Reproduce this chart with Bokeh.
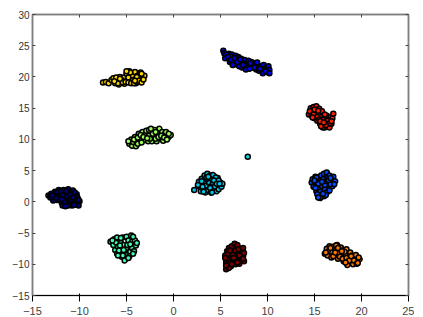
from bokeh.plotting import figure
from bokeh.models import LinearAxis, FixedTicker
from bokeh.embed import file_html
from bokeh.resources import INLINE

navy_x = [-13.3,-13.0,-12.9,-12.6,-12.5,-12.4,-12.2,-12.1,-12.0,-11.9,-11.8,-11.7,-11.6,-11.5,-11.4,-11.2,-11.1,-11.0,-10.9,-10.8,-10.7,-10.6,-10.5,-10.4,-10.3,-10.2,-10.1,-10.0,-12.8,-13.1,-11.3,-10.9,-12.7,-12.3,-12.2,-12.0,-11.8,-11.6,-11.4,-11.2,-11.0,-10.7,-10.5,-10.3,-10.6,-11.9,-12.5,-12.9,-10.1,-11.5]
navy_y = [1.0,1.3,0.6,1.6,1.0,0.3,1.9,1.3,0.7,-0.1,-0.6,1.9,1.2,0.4,-0.4,2.0,1.4,0.8,0.0,-0.6,1.8,1.1,0.4,-0.2,1.2,0.6,-0.6,0.1,0.2,0.7,0.9,0.4,1.3,1.6,0.4,1.6,1.0,0.0,1.7,-0.6,1.1,0.7,1.5,0.3,-0.5,0.4,0.6,1.0,0.3,-0.7]
blue_x = [5.3,5.4,5.6,5.5,5.9,5.9,6.2,6.3,6.2,6.6,6.6,6.7,6.9,7.0,7.0,7.2,7.3,7.3,7.6,7.6,7.8,8.0,8.0,8.3,8.4,8.5,8.7,8.8,9.0,9.1,9.3,9.4,9.6,9.7,9.9,10.0,10.1,10.2,6.0,6.9,7.5,9.5,5.6,5.8,6.1,6.4,6.5,6.8,7.1,7.4,7.9,8.2,8.6,8.9,9.2,9.8,10.2,7.7,6.3,8.1]
blue_y = [24.2,23.8,23.2,23.0,23.7,22.9,23.6,22.8,23.2,23.4,22.6,22.0,23.2,22.5,21.7,22.9,22.2,21.5,22.7,21.6,22.2,21.7,22.6,22.4,21.5,22.0,22.2,21.2,21.8,21.0,21.7,21.1,21.9,21.3,21.6,20.8,21.7,21.1,22.4,23.0,21.9,20.6,23.6,23.2,22.7,22.3,23.0,22.4,22.8,21.9,21.5,22.2,21.5,22.3,21.3,20.9,20.6,21.2,21.9,21.3]
midblue_x = [14.7,14.8,15.0,15.1,15.1,15.2,15.3,15.4,15.4,15.5,15.6,15.7,15.7,15.8,15.9,16.0,16.0,16.1,16.2,16.3,16.3,16.4,16.5,16.6,16.6,16.8,16.9,17.0,17.2,15.5,15.2,16.2,14.9,15.4,15.6,15.9,16.1,16.4,16.7,15.0,15.3,15.8,16.5,16.7,15.6,15.1,17.1,15.4]
midblue_y = [3.1,3.6,2.7,4.0,3.2,1.7,2.4,3.6,0.9,2.0,3.0,4.2,1.1,2.5,3.6,0.9,4.5,2.0,3.1,1.5,4.7,3.9,2.6,1.8,4.2,3.3,2.5,4.0,3.3,1.4,3.9,1.1,2.4,2.9,1.6,1.3,2.7,3.3,2.8,3.4,1.2,3.2,3.5,3.8,0.6,2.2,2.8,0.7]
cyan_x = [2.2,2.7,2.8,2.9,3.0,3.1,3.2,3.3,3.3,3.4,3.5,3.6,3.6,3.7,3.8,3.9,4.0,4.0,4.1,4.2,4.3,4.3,4.4,4.5,4.6,4.7,4.9,5.0,3.1,4.8,2.6,3.0,3.5,3.9,4.2,4.5,4.8,5.1,3.7,4.3,5.2,4.1,4.6,3.2,4.9]
cyan_y = [1.9,3.2,2.4,1.7,3.7,2.9,2.0,4.2,3.2,1.5,2.6,4.5,3.6,1.9,3.0,4.2,1.5,2.5,3.7,3.0,1.8,4.1,2.4,3.3,1.7,3.8,2.6,3.1,2.4,2.0,2.7,3.3,3.9,2.2,4.3,3.9,3.4,2.4,4.0,3.4,2.9,1.5,2.9,1.6,2.9]
teal_x = [-6.7,-6.4,-6.3,-6.2,-6.1,-6.0,-5.9,-5.8,-5.7,-5.6,-5.5,-5.5,-5.4,-5.3,-5.2,-5.1,-5.0,-5.0,-4.9,-4.8,-4.7,-4.6,-4.5,-4.4,-4.4,-4.2,-4.1,-4.0,-5.2,-5.7,-6.0,-5.8,-5.6,-5.3,-4.9,-4.6,-4.3,-3.9,-6.5,-5.4,-4.7,-4.3,-5.9,-4.8]
teal_y = [-6.4,-6.9,-6.0,-7.7,-6.5,-8.3,-7.2,-5.9,-8.2,-6.6,-7.5,-8.8,-5.7,-6.9,-8.1,-9.1,-5.6,-7.4,-8.5,-6.2,-7.0,-8.0,-5.4,-6.4,-7.4,-7.9,-6.2,-7.0,-9.4,-7.0,-5.7,-7.8,-5.8,-7.7,-6.9,-6.8,-5.6,-6.6,-6.2,-8.6,-8.7,-8.3,-8.6,-9.0]
green_x = [-4.7,-4.5,-4.4,-4.3,-4.1,-4.0,-3.9,-3.7,-3.6,-3.4,-3.3,-3.1,-3.0,-2.9,-2.7,-2.6,-2.4,-2.3,-2.1,-2.0,-1.8,-1.7,-1.5,-1.4,-1.2,-1.1,-0.9,-0.8,-0.5,-0.3,-3.8,-2.5,-4.8,-4.2,-3.8,-3.5,-3.2,-2.8,-2.6,-2.2,-1.9,-1.6,-1.3,-1.0,-0.7,-2.4,-1.9,-3.4,-0.5]
green_y = [9.3,10.0,9.0,9.6,10.4,8.9,9.8,10.9,9.6,10.2,11.2,9.9,10.7,11.4,9.7,10.6,11.3,9.7,10.5,11.5,9.7,10.8,11.7,10.2,11.2,9.8,10.9,11.2,10.4,10.7,9.3,10.1,9.7,10.0,10.3,10.7,10.4,10.2,11.5,10.9,10.1,10.4,10.6,10.3,10.0,11.7,11.2,9.5,10.9]
yellow_x = [-7.5,-7.2,-6.9,-6.6,-6.4,-6.2,-6.0,-5.8,-5.7,-5.5,-5.3,-5.2,-5.0,-4.9,-4.7,-4.6,-4.4,-4.3,-4.1,-4.0,-3.8,-3.6,-3.5,-3.3,-3.1,-5.9,-4.8,-3.9,-6.1,-5.6,-5.4,-5.1,-4.8,-4.5,-4.2,-3.9,-3.7,-3.4,-4.6,-3.2,-5.7,-4.1,-5.0,-6.3,-3.4]
yellow_y = [19.1,19.2,19.0,19.5,19.8,19.0,19.4,18.8,20.0,19.3,19.9,18.9,20.5,19.6,20.9,19.2,20.2,19.5,20.8,19.0,20.2,19.5,20.7,19.9,20.2,19.0,19.9,20.0,19.9,19.6,19.1,19.2,19.1,19.0,19.0,19.2,19.4,19.1,20.7,19.6,19.7,19.4,20.9,19.3,20.5]
orange_x = [16.1,16.3,16.4,16.5,16.6,16.8,16.9,17.0,17.1,17.3,17.4,17.5,17.6,17.8,17.9,18.0,18.1,18.3,18.4,18.5,18.6,18.8,18.9,19.0,19.1,19.3,19.4,19.6,19.8,17.3,16.2,16.7,17.0,17.2,17.5,17.7,18.0,18.2,18.4,18.7,18.9,19.2,19.5,19.7,18.3,19.6,17.9]
orange_y = [-8.3,-7.5,-8.6,-7.9,-7.1,-8.9,-8.1,-7.2,-8.5,-7.7,-6.9,-9.1,-8.2,-7.3,-8.7,-7.8,-9.5,-8.4,-7.6,-10.1,-8.9,-8.1,-9.5,-8.6,-10.0,-9.2,-8.5,-9.6,-9.2,-7.0,-8.1,-7.4,-8.7,-8.1,-7.4,-8.8,-9.1,-8.0,-9.0,-9.4,-8.7,-9.4,-9.9,-8.9,-9.7,-9.8,-7.9]
red_x = [14.4,14.6,14.7,14.8,14.9,15.0,15.1,15.2,15.3,15.4,15.5,15.6,15.7,15.8,15.9,16.0,16.1,16.2,16.3,16.4,16.5,16.6,16.7,16.8,16.9,17.0,15.2,15.9,14.5,14.9,15.3,15.5,15.7,15.9,16.1,16.4,16.6,16.8,15.0,16.2,15.6,16.0,15.4,14.8]
red_y = [14.0,15.0,13.8,14.5,15.2,13.4,14.4,15.3,13.0,14.2,14.9,12.5,13.6,14.5,12.2,13.3,11.9,12.8,13.8,12.2,13.1,11.9,13.6,12.5,13.4,14.1,13.8,11.9,14.5,14.0,13.6,13.2,12.1,13.1,14.0,13.0,12.6,12.9,14.8,12.3,12.9,12.7,14.6,13.5]
darkred_x = [5.6,5.5,5.6,5.7,5.8,5.8,5.9,6.0,6.0,6.1,6.2,6.2,6.3,6.4,6.5,6.5,6.6,6.7,6.8,6.8,6.9,7.0,7.1,7.1,7.2,7.3,7.4,7.5,5.9,6.6,5.6,5.7,6.1,6.3,6.6,6.9,7.2,7.4,7.5,5.8,6.0,6.4,6.8,7.0,5.5,7.4,6.2]
darkred_y = [-10.8,-8.6,-9.7,-7.9,-10.2,-8.9,-7.4,-9.6,-8.2,-10.3,-7.1,-9.0,-7.9,-9.7,-6.7,-8.5,-10.0,-7.4,-9.1,-6.9,-8.1,-9.9,-7.5,-8.8,-9.4,-8.0,-8.7,-9.5,-10.6,-9.2,-10.2,-9.1,-8.6,-8.5,-7.8,-7.6,-8.5,-7.4,-8.2,-8.3,-7.8,-9.0,-9.7,-8.6,-9.0,-9.1,-10.0]
single_x = [7.9]
single_y = [7.2]

series = [
    (navy_x, navy_y, "#000080"),
    (blue_x, blue_y, "#0000f1"),
    (midblue_x, midblue_y, "#004dff"),
    (cyan_x, cyan_y, "#00c8e6"),
    (single_x, single_y, "#10d8e0"),
    (teal_x, teal_y, "#40ffb0"),
    (green_x, green_y, "#9cff5a"),
    (yellow_x, yellow_y, "#ffd800"),
    (orange_x, orange_y, "#ff7a00"),
    (red_x, red_y, "#ff1e00"),
    (darkred_x, darkred_y, "#800000"),
]
x_ticks = [-15,-10,-5,0,5,10,15,20,25]
y_ticks = [-15,-10,-5,0,5,10,15,20,25,30]

p = figure(frame_width=376, frame_height=281, x_range=(-15,25), y_range=(-15,30),
           output_backend="svg", toolbar_location=None,
           min_border_left=32, min_border_top=14, min_border_right=6, min_border_bottom=18)
p.background_fill_color = "white"
p.grid.visible = False
p.outline_line_color = "#7f7f7f"
p.outline_line_width = 1.5
p.xaxis.ticker = FixedTicker(ticks=x_ticks)
p.yaxis.ticker = FixedTicker(ticks=y_ticks)
top = LinearAxis(ticker=FixedTicker(ticks=x_ticks), major_label_overrides={t: "" for t in x_ticks})
right = LinearAxis(ticker=FixedTicker(ticks=y_ticks), major_label_overrides={t: "" for t in y_ticks})
p.add_layout(top, "above")
p.add_layout(right, "right")
for ax in (p.xaxis[0], p.yaxis[0], top, right):
    ax.axis_line_color = "#7f7f7f"
    ax.axis_line_width = 1.5
    ax.major_tick_in = 3
    ax.major_tick_out = 0
    ax.major_tick_line_color = "#444444"
    ax.minor_tick_line_color = None
    ax.major_label_text_font = "Liberation Sans"
    ax.major_label_text_font_size = "10px"
    ax.major_label_text_color = "#333333"
    ax.major_label_standoff = 3
for ax in (top, right):
    ax.major_label_standoff = 0

for xs, ys, c in series:
    p.scatter(xs, ys, size=5, fill_color=c, line_color="black", line_width=1.5)

open("out.html", "w").write(file_html(p, INLINE))
